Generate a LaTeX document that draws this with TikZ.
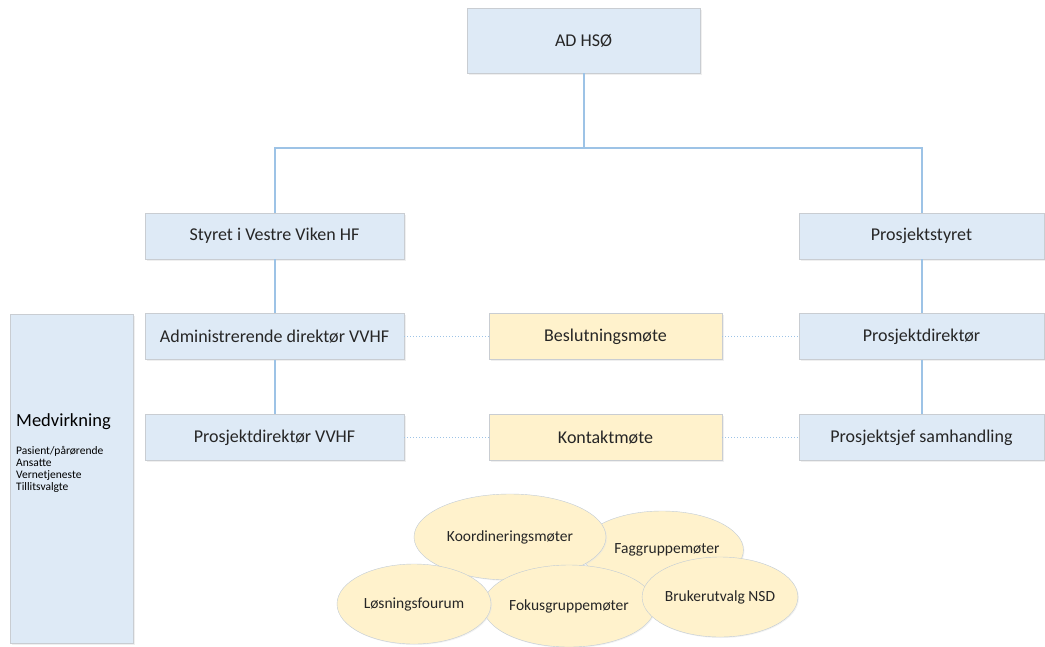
\documentclass[tikz,border=0pt]{standalone}
\usepackage{fontspec}
\setmainfont{Carlito}
\usepackage{xcolor}
\usetikzlibrary{shapes.geometric,shadows}
\definecolor{boxblue}{HTML}{DEEAF6}
\definecolor{boxyellow}{HTML}{FFF2CC}
\definecolor{linkblue}{HTML}{9DC3E6}
\definecolor{edgegray}{HTML}{C9CDD2}

\begin{document}
\begin{tikzpicture}[x=1pt,y=-1pt,
        org/.style = {rectangle, draw=edgegray, fill=boxblue, minimum width=259pt, minimum height=46pt,
            font=\fontsize{18}{20}\selectfont, text=black!85, drop shadow={shadow xshift=1.5pt, shadow yshift=-1.5pt, fill=black!12}},
        meet/.style = {org, fill=boxyellow, minimum width=233pt},
        forum/.style = {ellipse, draw=edgegray!80!linkblue, fill=boxyellow, inner sep=0pt, font=\fontsize{15.5}{17}\selectfont,
            text=black!85, drop shadow={shadow xshift=1pt, shadow yshift=-1pt, fill=black!10}},
        link/.style = {draw=linkblue, line width=2pt},
        tie/.style = {draw=linkblue, dotted, line width=1pt}
    ]
        \useasboundingbox (0,0) rectangle (1045,646);
        % top level
        \node[org, minimum width=233pt, minimum height=65pt] (ad) at (583.5,40.5) {AD HSØ};
        \node[org] (styret) at (274.5,236) {Styret i Vestre Viken HF};
        \node[org, minimum width=245pt] (pstyret) at (921.5,236) {Prosjektstyret};
        % second level
        \node[org] (adm) at (274.5,336.5) {Administrerende direktør VVHF};
        \node[meet] (besl) at (605.5,336.5) {Beslutningsmøte};
        \node[org, minimum width=245pt] (pdir) at (921.5,336.5) {Prosjektdirektør};
        % third level
        \node[org] (pdirv) at (274.5,437.5) {Prosjektdirektør VVHF};
        \node[meet] (kontakt) at (605.5,437.5) {Kontaktmøte};
        \node[org, minimum width=245pt] (psjef) at (921.5,437.5) {Prosjektsjef samhandling};
        % medvirkning
        \node[org, minimum width=123pt, minimum height=329pt] (medv) at (71.5,478.5) {};
        \node[anchor=west, inner sep=0pt, font=\fontsize{18.5}{20}\selectfont] (medvtitle) at (16,422) {Medvirkning};
        \node[anchor=north west, inner sep=0pt, align=left, font=\fontsize{11.5}{12}\selectfont] (medvlist) at (16,446)
            {Pasient/pårørende\\Ansatte\\Vernetjeneste\\Tillitsvalgte};
        % lines
        \coordinate (split) at (583.5,148);
        \draw[link] (ad.south) -- (split) -| (styret.north);
        \draw[link] (split) -| (pstyret.north);
        \draw[link] (styret) -- (adm);
        \draw[link] (adm) -- (pdirv);
        \draw[link] (pstyret) -- (pdir);
        \draw[link] (pdir) -- (psjef);
        \draw[tie] (adm) -- (besl);
        \draw[tie] (besl) -- (pdir);
        \draw[tie] (pdirv) -- (kontakt);
        \draw[tie] (kontakt) -- (psjef);
        % forums
        \node[forum, minimum width=152pt, minimum height=78pt] (fag) at (662,550) {\hspace{10pt}Faggruppemøter};
        \node[forum, minimum width=192pt, minimum height=86pt] (koord) at (510,537) {Koordineringsmøter};
        \node[forum, minimum width=172pt, minimum height=82pt] (fokus) at (569,606) {Fokusgruppemøter};
        \node[forum, minimum width=154pt, minimum height=80pt] (losning) at (414,604) {Løsningsfourum};
        \node[forum, minimum width=140pt, minimum height=80pt] (bruker) at (720,597) {Brukerutvalg NSD};
    \end{tikzpicture}
\end{document}
